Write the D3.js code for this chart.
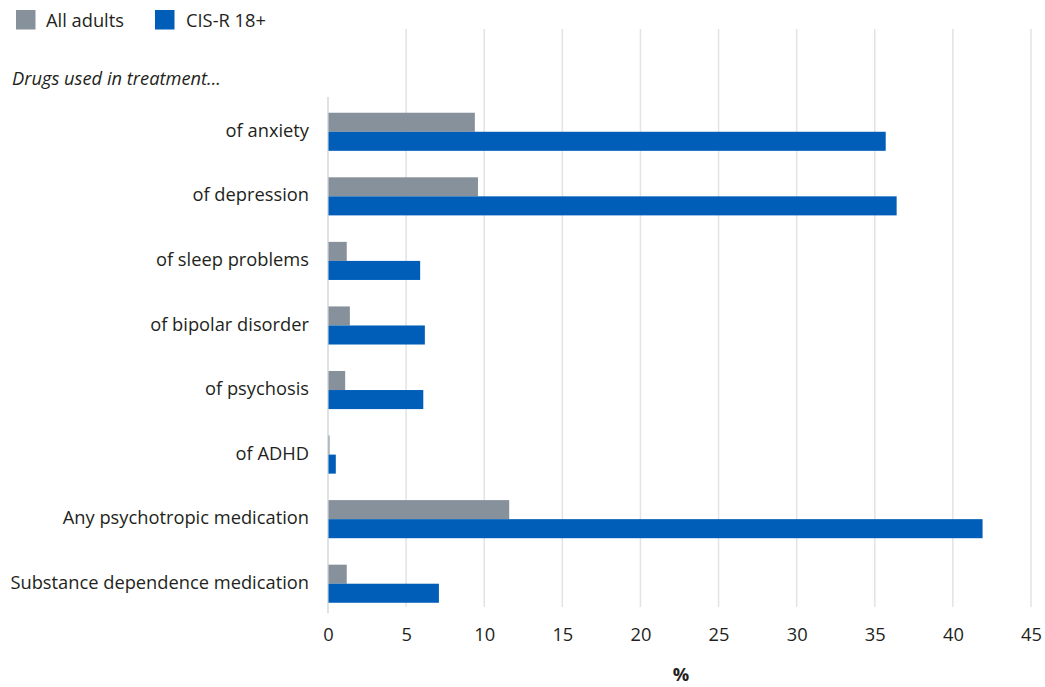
<!DOCTYPE html>
<html><head><meta charset="utf-8">
<script src="https://cdn.jsdelivr.net/npm/d3@7"></script>
<style>body{margin:0;background:#fff;}svg{display:block;font-family:"Open Sans",sans-serif;}</style>
</head><body>
<svg id="c" width="1045" height="687"></svg>
<script>
const categories = ["of anxiety","of depression","of sleep problems","of bipolar disorder","of psychosis","of ADHD","Any psychotropic medication","Substance dependence medication"];
const seriesNames = ["All adults","CIS-R 18+"];
const allAdults = [9.4, 9.6, 1.2, 1.4, 1.1, 0.1, 11.6, 1.2];
const cisr18 = [35.7, 36.4, 5.9, 6.2, 6.1, 0.5, 41.9, 7.1];
const xTicks = [0,5,10,15,20,25,30,35,40,45];
const colors = ["#87919b","#005eb8"];

const FS = 18.3;
const svg = d3.select("#c");
const x = d3.scaleLinear().domain([0,45]).range([328,1031]);
const y = d3.scaleBand().domain(categories).range([99.5,616]).paddingInner(0.41).paddingOuter(0.205);
const ySub = d3.scaleBand().domain(seriesNames).range([0,y.bandwidth()]);

// gridlines
svg.append("g").selectAll("line").data(xTicks.filter(d=>d>0)).join("line")
  .attr("x1",d=>x(d)).attr("x2",d=>x(d)).attr("y1",29).attr("y2",607)
  .attr("stroke","#e3e3e3").attr("stroke-width",1.5);
// axis line
svg.append("line").attr("x1",x(0)).attr("x2",x(0)).attr("y1",97).attr("y2",613)
  .attr("stroke","#d5d8da").attr("stroke-width",1.5);

const series = [allAdults, cisr18];
series.forEach((vals,si)=>{
  svg.append("g").selectAll("rect").data(categories).join("rect")
    .attr("x",x(0)+0.5)
    .attr("y",(c)=>y(c)+ySub(seriesNames[si]))
    .attr("width",(c,i)=>Math.max(0,x(vals[i])-x(0)-0.5))
    .attr("height",ySub.bandwidth())
    .attr("fill",colors[si]);
});

// x tick labels
const xa = svg.append("g").attr("transform","translate(0,610)")
  .call(d3.axisBottom(x).tickValues(xTicks).tickSize(0).tickPadding(18));
xa.select(".domain").remove();
xa.selectAll("text").attr("font-size",FS).attr("fill","#231f20").style("font-family","'Open Sans',sans-serif");

// y labels
const ya = svg.append("g").attr("transform","translate(309,0)")
  .call(d3.axisLeft(y).tickSize(0).tickPadding(0));
ya.select(".domain").remove();
ya.selectAll("text").attr("font-size",FS).attr("fill","#231f20").attr("dy","0.28em").style("font-family","'Open Sans',sans-serif");

// axis title
svg.append("text").attr("x",681).attr("y",681).attr("text-anchor","middle")
  .attr("font-size",FS).attr("font-weight","bold").attr("fill","#231f20").text("%");

// subtitle
svg.append("text").attr("x",12).attr("y",85).attr("font-size",FS).attr("font-style","italic")
  .attr("fill","#231f20").text("Drugs used in treatment...");

// legend
const leg = [{n:seriesNames[0],x:16,tx:46,c:colors[0]},{n:seriesNames[1],x:155,tx:186,c:colors[1]}];
leg.forEach(l=>{
  svg.append("rect").attr("x",l.x).attr("y",10).attr("width",19.5).attr("height",19.5).attr("fill",l.c);
  svg.append("text").attr("x",l.tx).attr("y",27).attr("font-size",FS).attr("fill","#231f20").text(l.n);
});
</script>
</body></html>
